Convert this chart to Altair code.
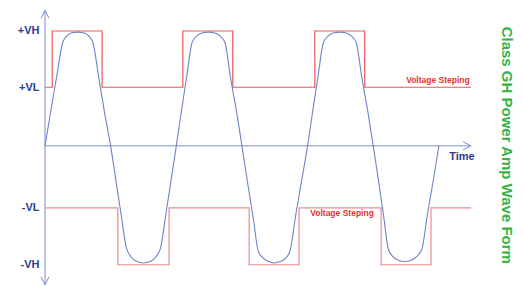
import altair as alt
import pandas as pd

# ---- data ----
wave_t = [0.00, 0.09, 0.18, 0.27, 0.33, 0.40, 0.50, 0.60, 0.67, 0.73, 0.82, 0.91,
          1.00, 1.08, 1.16, 1.24, 1.31, 1.39, 1.50, 1.61, 1.69, 1.76, 1.84, 1.92,
          2.00, 2.08, 2.16, 2.24, 2.31, 2.39, 2.49, 2.59, 2.67, 2.74, 2.83, 2.92,
          3.00, 3.08, 3.17, 3.25, 3.32, 3.40, 3.49, 3.59, 3.67, 3.73, 3.82, 3.91,
          4.00, 4.08, 4.16, 4.24, 4.31, 4.39, 4.49, 4.59, 4.67, 4.74, 4.83, 4.92,
          5.00, 5.08, 5.16, 5.23, 5.30, 5.38, 5.48, 5.58, 5.66, 5.74, 5.83, 5.92, 6.00]
wave_v = [0.00, 0.31, 0.61, 0.90, 0.955, 0.982, 0.99, 0.982, 0.955, 0.90, 0.59, 0.28,
          0.00, -0.30, -0.60, -0.89, -0.965, -1.005, -1.02, -1.005, -0.965, -0.89, -0.60, -0.30,
          0.00, 0.31, 0.61, 0.90, 0.955, 0.982, 0.99, 0.982, 0.955, 0.90, 0.58, 0.29,
          0.00, -0.30, -0.62, -0.92, -0.975, -1.005, -1.02, -1.005, -0.975, -0.92, -0.60, -0.30,
          0.00, 0.31, 0.61, 0.90, 0.955, 0.982, 0.99, 0.982, 0.955, 0.90, 0.58, 0.29,
          0.00, -0.30, -0.62, -0.90, -0.965, -0.995, -1.007, -0.995, -0.965, -0.90, -0.58, -0.28, 0.00]

upper_t = [0.00, 0.11, 0.87, 2.10, 2.86, 4.11, 4.87, 6.49]
upper_v = [0.51, 1.00, 0.51, 1.00, 0.51, 1.00, 0.51, 0.51]
lower_t = [0.00, 1.11, 1.89, 3.11, 3.87, 5.12, 5.88, 6.49]
lower_v = [-0.54, -1.035, -0.54, -1.035, -0.54, -1.035, -0.54, -0.54]

level_values = [1.00, 0.51, -0.54, -1.035]
level_labels = ["+VH", "+VL", "-VL", "-VH"]

time_end = 6.49
v_top = 1.18
v_bottom = -1.21

FONT = "Liberation Sans"
BLUE = "#6f83c6"
AXIS_BLUE = "#7d8dca"
NAVY = "#2c3c92"
RED = "#e8585c"
RED_LIGHT = "#f08a8c"
GREEN = "#35b34a"

x_scale = alt.Scale(domain=[0, 6.55], nice=False, zero=False)
y_scale = alt.Scale(domain=[-1.22, 1.20], nice=False, zero=False)

label_expr = ""
for v, lab in zip(level_values, level_labels):
    label_expr += f"abs(datum.value - ({v})) < 0.01 ? '{lab}' : "
label_expr += "''"

wave_df = pd.DataFrame({"t": wave_t, "v": wave_v})
upper_df = pd.DataFrame({"t": upper_t, "v": upper_v})
lower_df = pd.DataFrame({"t": lower_t, "v": lower_v})

X = alt.X("t:Q", scale=x_scale, axis=None)
Y = alt.Y("v:Q", scale=y_scale,
          axis=alt.Axis(values=level_values, labelExpr=label_expr, title=None,
                        grid=False, ticks=False, tickSize=0, domain=False,
                        labelPadding=6, labelFont=FONT, labelFontSize=11,
                        labelFontWeight="bold", labelColor=NAVY))

# axes lines
vaxis = alt.Chart(pd.DataFrame({"t": [0.0], "v": [v_bottom], "v2": [v_top]})).mark_rule(
    color=AXIS_BLUE, strokeWidth=1).encode(x=X, y=Y, y2="v2:Q")
haxis = alt.Chart(pd.DataFrame({"t": [0.0], "t2": [time_end], "v": [0.0]})).mark_rule(
    color=AXIS_BLUE, strokeWidth=1).encode(x=X, x2="t2:Q", y=Y)

arrows_df = pd.DataFrame({
    "t": [0.0, 0.0, time_end],
    "v": [v_top, v_bottom, 0.0],
    "shape": ["M-0.5,1L0,0L0.5,1", "M-0.5,-1L0,0L0.5,-1", "M-1,-0.5L0,0L-1,0.5"],
})
arrows = alt.Chart(arrows_df).mark_point(filled=False, color=AXIS_BLUE, opacity=1,
                                         strokeWidth=1, size=256).encode(
    x=X, y=Y, shape=alt.Shape("shape:N", scale=None))

upper = alt.Chart(upper_df).mark_line(interpolate="step-after", color=RED,
                                      strokeWidth=1.2).encode(x=X, y=Y)
lower = alt.Chart(lower_df).mark_line(interpolate="step-after", color=RED_LIGHT,
                                      strokeWidth=1.2).encode(x=X, y=Y)
wave = alt.Chart(wave_df).mark_line(interpolate="monotone", color=BLUE,
                                    strokeWidth=1.1).encode(x=X, y=Y)

time_label = alt.Chart(pd.DataFrame({"t": [6.35], "v": [-0.096], "txt": ["Time"]})).mark_text(
    font=FONT, fontSize=11, fontWeight="bold", color=NAVY, align="center",
    baseline="middle").encode(x=X, y=Y, text="txt:N")

step_up = alt.Chart(pd.DataFrame({"t": [6.47], "v": [0.574], "txt": ["Voltage Steping"]})).mark_text(
    font=FONT, fontSize=8.5, fontWeight="bold", color="#e83030", align="right",
    baseline="middle").encode(x=X, y=Y, text="txt:N")
step_low = alt.Chart(pd.DataFrame({"t": [4.04], "v": [-0.583], "txt": ["Voltage Steping"]})).mark_text(
    font=FONT, fontSize=8.5, fontWeight="bold", color="#e83030", align="left",
    baseline="middle").encode(x=X, y=Y, text="txt:N")

title = alt.Chart(pd.DataFrame({"t": [7.04], "v": [0.005], "txt": ["Class GH Power Amp Wave Form"]})).mark_text(
    font=FONT, fontSize=15, fontWeight="bold", color=GREEN, align="center",
    baseline="middle", angle=90).encode(x=X, y=Y, text="txt:N")

chart = alt.layer(vaxis, haxis, arrows, upper, lower, wave, time_label,
                  step_up, step_low, title).properties(
    width=430, height=278,
    autosize=alt.AutoSizeParams(type="none"),
    padding={"left": 37, "top": 0, "right": 40, "bottom": 0},
).configure_view(stroke=None)

chart.save("out.html", embed_options={"renderer": "svg", "actions": False})
